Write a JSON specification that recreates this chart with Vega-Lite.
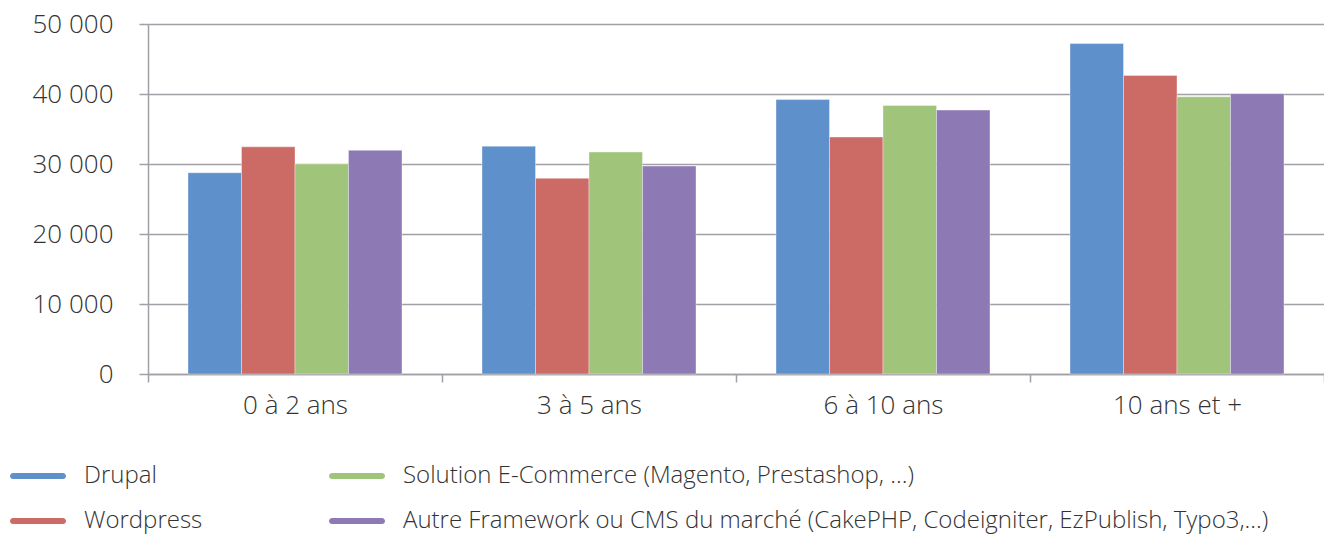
{
  "$schema": "https://vega.github.io/schema/vega-lite/v6.json",
  "autosize": "none",
  "width": 1176,
  "height": 350,
  "padding": {"left": 148, "top": 24, "right": 0, "bottom": 162},
  "background": "white",
  "config": {
    "view": {"stroke": null},
    "font": "Open Sans",
    "axis": {"labelFont": "Open Sans", "labelFontWeight": 300, "labelColor": "#333333", "labelFontSize": 26}
  },
  "data": {
    "values": [
      {"cat": "0 à 2 ans", "series": "Drupal", "value": 28750},
      {"cat": "0 à 2 ans", "series": "Wordpress", "value": 32450},
      {"cat": "0 à 2 ans", "series": "Solution E-Commerce (Magento, Prestashop, ...)", "value": 30000},
      {"cat": "0 à 2 ans", "series": "Autre Framework ou CMS du marché (CakePHP, Codeigniter, EzPublish, Typo3,...)", "value": 31950},
      {"cat": "3 à 5 ans", "series": "Drupal", "value": 32550},
      {"cat": "3 à 5 ans", "series": "Wordpress", "value": 27950},
      {"cat": "3 à 5 ans", "series": "Solution E-Commerce (Magento, Prestashop, ...)", "value": 31700},
      {"cat": "3 à 5 ans", "series": "Autre Framework ou CMS du marché (CakePHP, Codeigniter, EzPublish, Typo3,...)", "value": 29700},
      {"cat": "6 à 10 ans", "series": "Drupal", "value": 39200},
      {"cat": "6 à 10 ans", "series": "Wordpress", "value": 33850},
      {"cat": "6 à 10 ans", "series": "Solution E-Commerce (Magento, Prestashop, ...)", "value": 38350},
      {"cat": "6 à 10 ans", "series": "Autre Framework ou CMS du marché (CakePHP, Codeigniter, EzPublish, Typo3,...)", "value": 37700},
      {"cat": "10 ans et +", "series": "Drupal", "value": 47200},
      {"cat": "10 ans et +", "series": "Wordpress", "value": 42650},
      {"cat": "10 ans et +", "series": "Solution E-Commerce (Magento, Prestashop, ...)", "value": 39600},
      {"cat": "10 ans et +", "series": "Autre Framework ou CMS du marché (CakePHP, Codeigniter, EzPublish, Typo3,...)", "value": 40050}
    ]
  },
  "mark": {"type": "bar", "stroke": "white", "strokeWidth": 0.8, "strokeOpacity": 0.45},
  "encoding": {
    "x": {
      "field": "cat", "type": "nominal", "sort": null, "title": null,
      "scale": {"paddingInner": 0, "paddingOuter": 0},
      "axis": {
        "labelAngle": 0, "tickBand": "extent", "domainColor": "#a0a0a6", "domainWidth": 1.5,
        "tickColor": "#a0a0a6", "tickWidth": 1.5, "tickSize": 8, "labelPadding": 10, "grid": false
      }
    },
    "y": {
      "field": "value", "type": "quantitative", "title": null,
      "scale": {"domain": [0, 50000], "nice": false},
      "axis": {
        "values": [0, 10000, 20000, 30000, 40000, 50000],
        "labelExpr": "replace(format(datum.value, ','), ',', ' ')",
        "grid": true, "gridColor": "#a0a0a6", "gridWidth": 1.5,
        "domainColor": "#a0a0a6", "domainWidth": 1.5,
        "tickColor": "#a0a0a6", "tickWidth": 1.5, "tickSize": 9, "labelPadding": 26
      }
    },
    "xOffset": {
      "field": "series", "type": "nominal",
      "sort": ["Drupal", "Wordpress", "Solution E-Commerce (Magento, Prestashop, ...)", "Autre Framework ou CMS du marché (CakePHP, Codeigniter, EzPublish, Typo3,...)"],
      "scale": {"paddingInner": 0, "paddingOuter": 0.748}
    },
    "color": {
      "field": "series", "type": "nominal",
      "scale": {
        "domain": ["Drupal", "Solution E-Commerce (Magento, Prestashop, ...)", "Wordpress", "Autre Framework ou CMS du marché (CakePHP, Codeigniter, EzPublish, Typo3,...)"],
        "range": ["#5E90CB", "#9FC47A", "#CC6A65", "#8D79B4"]
      },
      "legend": {
        "title": null, "orient": "none", "legendX": -138, "legendY": 424,
        "direction": "horizontal", "columns": 2,
        "symbolType": "M-0.89,-0.11L0.89,-0.11A0.11,0.11 0 0 1 0.89,0.11L-0.89,0.11A0.11,0.11 0 0 1 -0.89,-0.11Z",
        "symbolSize": 3136, "symbolStrokeWidth": 0, "symbolOpacity": 1,
        "labelFont": "Open Sans", "labelFontWeight": 300, "labelFontSize": 24, "labelColor": "#333333",
        "labelOffset": 18, "labelLimit": 1000, "columnPadding": 125, "rowPadding": 5
      }
    }
  }
}
